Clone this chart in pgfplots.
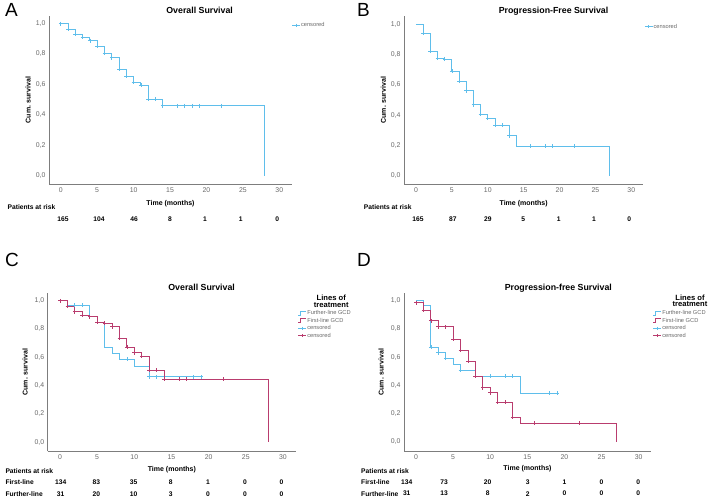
\documentclass[border=0pt]{standalone}
\usepackage{pgfplots}
\pgfplotsset{compat=1.18}
\usepackage{fontspec}
\setmainfont{Liberation Sans}
\definecolor{kmblue}{RGB}{95,190,235}
\definecolor{kmred}{RGB}{185,60,110}
\definecolor{axgray}{RGB}{125,125,125}
\definecolor{tickgray}{RGB}{105,105,105}
\newcommand{\fs}[1]{\fontsize{#1}{#1}\selectfont}
\tikzset{risk/.style={font=\bfseries\fs{6.7}}}
\pgfplotsset{
  km/.style={
    scale only axis,
    axis lines=left,
    axis line style={axgray, line width=0.8pt, -},
    xtick={0,5,10,15,20,25,30}, ytick={0,0.2,0.4,0.6,0.8,1.0},
    major tick length=0pt,
    tick label style={font=\fs{6.9}, text=tickgray},
    /pgf/number format/assume math mode=true,
    y tick label style={/pgf/number format/.cd, fixed, fixed zerofill, precision=1, use comma, /tikz/.cd},
    ylabel={Cum. survival},
    ylabel style={font=\bfseries\fs{7}, anchor=center},
    xlabel={Time (months)},
    xlabel style={font=\bfseries\fs{7}, at={(axis description cs:0.5,0)}, anchor=center},
    title style={font=\bfseries\fs{8.8}, anchor=base, yshift=-3pt},
    clip=false,
    legend style={draw=none, fill=none, font=\fs{5.7}, text=tickgray, inner sep=0pt, row sep=1.3pt,
      nodes={inner sep=0.5pt, text height=4pt, text depth=1.2pt}},
    legend cell align=left,
  },
  kmline/.style={const plot, line width=0.8pt, mark=none, forget plot},
  kmcens/.style={only marks, mark=+, mark size=1.9pt, mark options={line width=0.7pt}, forget plot},
  censleg/.style={legend image code/.code={\draw[mark repeat=2,mark phase=2,##1] plot coordinates {(0pt,0pt) (4pt,0pt) (8pt,0pt)};}},
  stepleg/.style={legend image code/.code={\draw[##1] (0pt,-2pt) -- (2pt,-2pt) -- (2pt,2pt) -- (8pt,2pt);}},
}
\begin{document}
\begin{tikzpicture}
\useasboundingbox (0,0) rectangle (709pt,-498pt);
\node[anchor=north west, inner sep=0pt, font=\fs{19}] at (5pt,-3.5pt) {A};
\node[anchor=north west, inner sep=0pt, font=\fs{19}] at (357pt,-3.5pt) {B};
\node[anchor=north west, inner sep=0pt, font=\fs{19}] at (5pt,-253.5pt) {C};
\node[anchor=north west, inner sep=0pt, font=\fs{19}] at (357pt,-253.5pt) {D};

% ---------------- A ----------------
\begin{axis}[km, at={(49pt,-184pt)}, anchor=south west, width=243pt, height=168pt,
  xmin=-1.61, xmax=31.74, ymin=-0.055, ymax=1.05,
  title={Overall Survival}, title style={at={(axis description cs:0.62,1)}},
  ylabel style={at={(axis description cs:-0.086,0.5)}},
  xlabel style={yshift=-19.3pt},
  legend style={at={(axis description cs:0.999,0.945)}, anchor=west}]
\addlegendimage{censleg, kmblue, line width=0.6pt, mark=+, mark size=1.5pt}
\addlegendentry{censored}
\addplot[kmline, kmblue] coordinates {(0,1) (1,0.963) (2,0.930) (3,0.908) (4,0.888) (5,0.851) (6,0.807) (7,0.776) (8,0.700) (9,0.653) (10,0.614) (11,0.596) (12,0.504) (14,0.460) (28,0)};
\addplot[kmcens, kmblue] coordinates {(0,1) (1,0.963) (2,0.930) (3,0.908) (4,0.888) (5,0.851) (6,0.807) (7,0.776) (8,0.700) (9,0.653) (10,0.614) (11,0.596) (12,0.504) (13,0.504) (14,0.46) (16,0.46) (17,0.46) (18,0.46) (19,0.46) (22,0.46)};
\node[risk, anchor=west] at (axis cs:-7.78,-0.207) {Patients at risk};
\node[risk] at (axis cs:0.32,-0.285) {165};
\node[risk] at (axis cs:5.25,-0.285) {104};
\node[risk] at (axis cs:10.06,-0.285) {46};
\node[risk] at (axis cs:15.0,-0.285) {8};
\node[risk] at (axis cs:19.8,-0.285) {1};
\node[risk] at (axis cs:24.7,-0.285) {1};
\node[risk] at (axis cs:29.7,-0.285) {0};
\end{axis}

% ---------------- B ----------------
\begin{axis}[km, at={(404pt,-184.3pt)}, anchor=south west, width=239.3pt, height=168.3pt,
  xmin=-1.67, xmax=31.67, ymin=-0.057, ymax=1.055,
  title={Progression-Free Survival}, title style={at={(axis description cs:0.625,1)}},
  ylabel style={at={(axis description cs:-0.0865,0.5)}},
  xlabel style={yshift=-19.7pt},
  legend style={at={(axis description cs:1.004,0.936)}, anchor=west}]
\addlegendimage{censleg, kmblue, line width=0.6pt, mark=+, mark size=1.5pt}
\addlegendentry{censored}
\addplot[kmline, kmblue] coordinates {(0,1) (1,0.94) (2,0.822) (3,0.775) (4,0.769) (5,0.692) (6,0.623) (7,0.562) (8,0.469) (9,0.405) (10,0.379) (11,0.333) (13,0.264) (14,0.196) (27,0)};
\addplot[kmcens, kmblue] coordinates {(1,0.94) (2,0.822) (3,0.775) (4,0.769) (5,0.692) (6,0.623) (7,0.562) (8,0.469) (9,0.405) (10,0.379) (11,0.333) (12,0.333) (13,0.264) (16,0.196) (18,0.196) (19,0.196) (22,0.196)};
\node[risk, anchor=west] at (axis cs:-7.76,-0.207) {Patients at risk};
\node[risk] at (axis cs:0.28,-0.287) {165};
\node[risk] at (axis cs:5.15,-0.287) {87};
\node[risk] at (axis cs:10.0,-0.287) {29};
\node[risk] at (axis cs:14.95,-0.287) {5};
\node[risk] at (axis cs:19.9,-0.287) {1};
\node[risk] at (axis cs:24.8,-0.287) {1};
\node[risk] at (axis cs:29.7,-0.287) {0};
\end{axis}

% ---------------- C ----------------
\begin{axis}[km, at={(47.7pt,-451pt)}, anchor=south west, width=248.3pt, height=157.7pt,
  xmin=-1.65, xmax=31.75, ymin=-0.061, ymax=1.052,
  title={Overall Survival}, title style={at={(axis description cs:0.62,1)}},
  ylabel style={at={(axis description cs:-0.091,0.5)}},
  xlabel style={yshift=-18.3pt},
  legend style={at={(axis description cs:1.008,0.895)}, anchor=north west}]
\addlegendimage{stepleg, kmblue, line width=0.6pt}
\addlegendentry{Further-line GCD}
\addlegendimage{stepleg, kmred, line width=0.6pt}
\addlegendentry{First-line GCD}
\addlegendimage{censleg, kmblue, line width=0.6pt, mark=+, mark size=1.5pt}
\addlegendentry{censored}
\addlegendimage{censleg, kmred, line width=0.6pt, mark=+, mark size=1.5pt}
\addlegendentry{censored}
\addplot[kmline, kmblue] coordinates {(0,1) (1,0.968) (4,0.89) (5,0.85) (6,0.670) (7,0.628) (8,0.586) (10,0.534) (12,0.463) (19,0.463)};
\addplot[kmline, kmred] coordinates {(0,1) (1,0.962) (2,0.922) (3,0.896) (4,0.887) (5,0.850) (6,0.840) (7,0.816) (8,0.734) (9,0.671) (10,0.633) (11,0.609) (12,0.508) (14,0.445) (28,0)};
\addplot[kmcens, kmblue] coordinates {(2,0.968) (3,0.968) (9,0.586) (12,0.463) (13,0.463) (18,0.463) (19,0.463)};
\addplot[kmcens, kmred] coordinates {(0,1) (1,0.962) (2,0.922) (3,0.896) (4,0.887) (5,0.85) (6,0.84) (7,0.816) (8,0.734) (9,0.671) (10,0.633) (11,0.609) (12,0.508) (13,0.508) (14,0.445) (16,0.445) (17,0.445) (22,0.445)};
\node[font=\bfseries\fs{7.6}, align=center, inner sep=0pt] at (axis description cs:1.142,0.950) {Lines of\\[-0.8pt]treatment};
\node[risk, anchor=west] at (axis cs:-7.8,-0.2) {Patients at risk};
\node[risk, anchor=west] at (axis cs:-7.8,-0.280) {First-line};
\node[risk, anchor=west] at (axis cs:-7.8,-0.363) {Further-line};
\node[risk] at (axis cs:0.1,-0.280) {134};
\node[risk] at (axis cs:4.9,-0.280) {83};
\node[risk] at (axis cs:9.9,-0.280) {35};
\node[risk] at (axis cs:14.9,-0.280) {8};
\node[risk] at (axis cs:19.9,-0.280) {1};
\node[risk] at (axis cs:24.9,-0.280) {0};
\node[risk] at (axis cs:29.8,-0.280) {0};
\node[risk] at (axis cs:0.1,-0.363) {31};
\node[risk] at (axis cs:4.9,-0.363) {20};
\node[risk] at (axis cs:9.9,-0.363) {10};
\node[risk] at (axis cs:14.9,-0.363) {3};
\node[risk] at (axis cs:19.9,-0.363) {0};
\node[risk] at (axis cs:24.9,-0.363) {0};
\node[risk] at (axis cs:29.8,-0.363) {0};
\end{axis}

% ---------------- D ----------------
\begin{axis}[km, at={(404pt,-451pt)}, anchor=south west, width=247pt, height=157.7pt,
  xmin=-1.62, xmax=31.67, ymin=-0.064, ymax=1.052,
  title={Progression-free Survival}, title style={at={(axis description cs:0.625,1)}},
  ylabel style={at={(axis description cs:-0.093,0.5)}},
  xlabel style={yshift=-18pt},
  legend style={at={(axis description cs:1.008,0.895)}, anchor=north west}]
\addlegendimage{stepleg, kmblue, line width=0.6pt}
\addlegendentry{Further-line GCD}
\addlegendimage{stepleg, kmred, line width=0.6pt}
\addlegendentry{First-line GCD}
\addlegendimage{censleg, kmblue, line width=0.6pt, mark=+, mark size=1.5pt}
\addlegendentry{censored}
\addlegendimage{censleg, kmred, line width=0.6pt, mark=+, mark size=1.5pt}
\addlegendentry{censored}
\addplot[kmline, kmblue] coordinates {(0,1) (1,0.968) (2,0.670) (3,0.632) (4,0.590) (5,0.547) (6,0.507) (8,0.465) (14,0.344) (19,0.344)};
\addplot[kmline, kmred] coordinates {(0,0.986) (1,0.934) (2,0.858) (3,0.816) (5,0.727) (6,0.651) (7,0.573) (8,0.467) (9,0.384) (10,0.349) (11,0.283) (13,0.177) (14,0.132) (27,0)};
\addplot[kmcens, kmblue] coordinates {(2,0.67) (3,0.632) (4,0.59) (6,0.507) (10,0.465) (12,0.465) (13,0.465) (18,0.344) (19,0.344)};
\addplot[kmcens, kmred] coordinates {(0,0.986) (1,0.934) (2,0.858) (3,0.816) (4,0.816) (5,0.727) (6,0.651) (7,0.573) (8,0.467) (9,0.384) (10,0.349) (11,0.283) (12,0.283) (13,0.177) (16,0.132) (22,0.132)};
\node[font=\bfseries\fs{7.6}, align=center, inner sep=0pt] at (axis description cs:1.158,0.953) {Lines of\\[-0.8pt]treatment};
\node[risk, anchor=west] at (axis cs:-7.86,-0.203) {Patients at risk};
\node[risk, anchor=west] at (axis cs:-7.86,-0.285) {First-line};
\node[risk, anchor=west] at (axis cs:-7.86,-0.366) {Further-line};
\node[risk] at (axis cs:-1.25,-0.285) {134};
\node[risk] at (axis cs:3.8,-0.285) {73};
\node[risk] at (axis cs:9.66,-0.285) {20};
\node[risk] at (axis cs:15.05,-0.285) {3};
\node[risk] at (axis cs:20.0,-0.285) {1};
\node[risk] at (axis cs:25.0,-0.285) {0};
\node[risk] at (axis cs:29.96,-0.285) {0};
\node[risk] at (axis cs:-1.25,-0.366) {31};
\node[risk] at (axis cs:3.8,-0.366) {13};
\node[risk] at (axis cs:9.66,-0.366) {8};
\node[risk] at (axis cs:15.05,-0.366) {2};
\node[risk] at (axis cs:20.0,-0.366) {0};
\node[risk] at (axis cs:25.0,-0.366) {0};
\node[risk] at (axis cs:29.96,-0.366) {0};
\end{axis}
\end{tikzpicture}
\end{document}
